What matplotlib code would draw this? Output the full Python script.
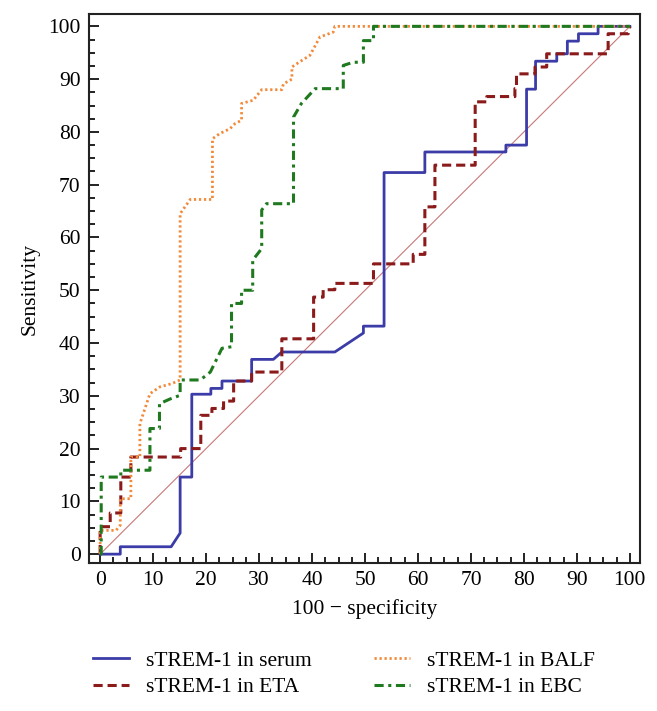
import matplotlib.pyplot as plt
from matplotlib.ticker import MultipleLocator

plt.rcParams['font.family'] = ['Liberation Serif', 'DejaVu Serif']
plt.rcParams['font.size'] = 15.5

# ROC curves (100 - specificity, sensitivity)
serum_x = [0, 3.8, 3.8, 13.4, 15.1, 15.1, 17.3, 17.3, 20.9, 20.9, 23, 23, 28.6, 28.6, 32.7,
           34.3, 44.3, 49.7, 49.7, 53.6, 53.6, 61.3, 61.3, 76.6, 76.6, 80.5, 80.5, 82.2, 82.2,
           86.2, 86.2, 88.2, 88.2, 90.3, 90.3, 94, 94, 100]
serum_y = [0, 0, 1.4, 1.4, 4, 14.6, 14.6, 30.3, 30.3, 31.4, 31.4, 32.8, 32.8, 36.9, 36.9,
           38.3, 38.3, 41.9, 43.2, 43.2, 72.3, 72.3, 76.2, 76.2, 77.5, 77.5, 88.1, 88.1, 93.4,
           93.4, 94.8, 94.8, 97.2, 97.2, 98.6, 98.6, 100, 100]

eta_x = [0, 0, 1.9, 1.9, 3.9, 3.9, 5.8, 5.8, 15.2, 15.2, 19, 19, 21.1, 21.1, 23.3, 23.3, 25.2,
         25.2, 28.6, 28.6, 34.3, 34.3, 40.3, 40.3, 42.1, 42.1, 44.3, 44.3, 51.6, 51.6, 59.1,
         59.1, 61.3, 61.3, 63.2, 63.2, 70.8, 70.8, 73, 73, 78.3, 78.3, 78.6, 78.6, 82.1, 82.1,
         84.3, 84.3, 95.9, 95.9, 99.7, 100]
eta_y = [0, 5.2, 5.2, 7.8, 7.8, 14.6, 14.6, 18.4, 18.4, 20, 20, 26.3, 26.3, 27.6, 27.6, 29, 29,
         32.8, 32.8, 34.5, 34.5, 40.8, 40.8, 48.7, 48.7, 50.1, 50.1, 51.3, 51.3, 55, 55, 56.8,
         56.8, 65.8, 65.8, 73.7, 73.7, 85.7, 85.7, 86.7, 86.7, 88.2, 88.2, 91, 91, 92.3, 92.3,
         94.8, 94.8, 98.6, 98.6, 100]

balf_x = [0, 0, 3, 3.8, 3.8, 5.8, 5.8, 7.5, 7.5, 9.4, 11.3, 13.5, 15.1, 15.1, 17, 21.2, 21.2,
          22.6, 24.5, 25.5, 26.7, 26.7, 28.9, 30.5, 34.3, 34.6, 36.2, 36.2, 37.7, 39.6, 41.5,
          44, 44.3, 100]
balf_y = [0, 4.5, 4.5, 5.5, 10.5, 10.5, 18.4, 18.4, 24.7, 30.4, 31.7, 32.3, 33, 64.5, 67.2,
          67.2, 78.7, 79.7, 80.6, 81.6, 82.2, 85.4, 86, 88, 88, 89.1, 90, 92.3, 93.3, 94.5, 98,
          98.9, 100, 100]

ebc_x = [0, 0.2, 0.2, 3.9, 3.9, 9.4, 9.4, 11.2, 11.2, 13.2, 15.1, 15.1, 18.9, 20.8, 23, 24.8,
         24.8, 26.7, 26.7, 28.8, 28.8, 30.5, 30.5, 31.4, 36.5, 36.5, 38, 40.6, 45.9, 45.9, 47.8,
         49.7, 49.7, 51.6, 51.6, 100]
ebc_y = [0, 0, 14.6, 14.6, 15.9, 15.9, 23.8, 23.8, 28.5, 29.4, 30.1, 33, 33, 34.5, 39, 39.3,
         47.5, 47.5, 50, 50, 55.7, 57.9, 65.2, 66.4, 66.4, 82.8, 85.4, 88.2, 88.2, 92.6, 93.2,
         93.2, 97.3, 97.3, 100, 100]

ref_line = [0, 100]

fig = plt.figure(figsize=(6.57, 7.11), dpi=100)
ax = fig.add_axes([0.1355, 0.208, 0.8385, 0.772])

ax.plot(ref_line, ref_line, color='#c87878', lw=0.8)
l1, = ax.plot(serum_x, serum_y, color='#3c3ca8', lw=2.0, label='sTREM-1 in serum')
l2, = ax.plot(eta_x, eta_y, color='#8b1a1a', lw=2.2, ls=(0, (3, 1.6)), label='sTREM-1 in ETA')
l3, = ax.plot(balf_x, balf_y, color='#f28a3a', lw=2.0, ls=(0, (0.8, 1.0)), label='sTREM-1 in BALF')
l4, = ax.plot(ebc_x, ebc_y, color='#1f7a1f', lw=2.2, ls=(0, (3, 1.5, 1, 1.5)), label='sTREM-1 in EBC')

ax.set_xlim(-2.1, 101.9)
ax.set_ylim(-1.7, 102.3)
ax.xaxis.set_major_locator(MultipleLocator(10))
ax.xaxis.set_minor_locator(MultipleLocator(2.5))
ax.yaxis.set_major_locator(MultipleLocator(10))
ax.yaxis.set_minor_locator(MultipleLocator(2.5))
ax.tick_params(which='both', direction='in', width=1.4, color='#222222')
ax.tick_params(which='major', length=7, pad=6)
ax.tick_params(which='minor', length=4.5)
for s in ax.spines.values():
    s.set_linewidth(1.5)
    s.set_color('#222222')

ax.set_xlabel('100 − specificity', labelpad=6)
ax.set_ylabel('Sensitivity', labelpad=6)

fig.legend(handles=[l1, l2, l3, l4], ncol=2, loc='lower center', bbox_to_anchor=(0.523, -0.008),
           frameon=False, handlelength=1.7, handletextpad=0.75, columnspacing=2.9,
           labelspacing=0.3, fontsize=15.5)

fig.savefig('out.png', dpi=100)
